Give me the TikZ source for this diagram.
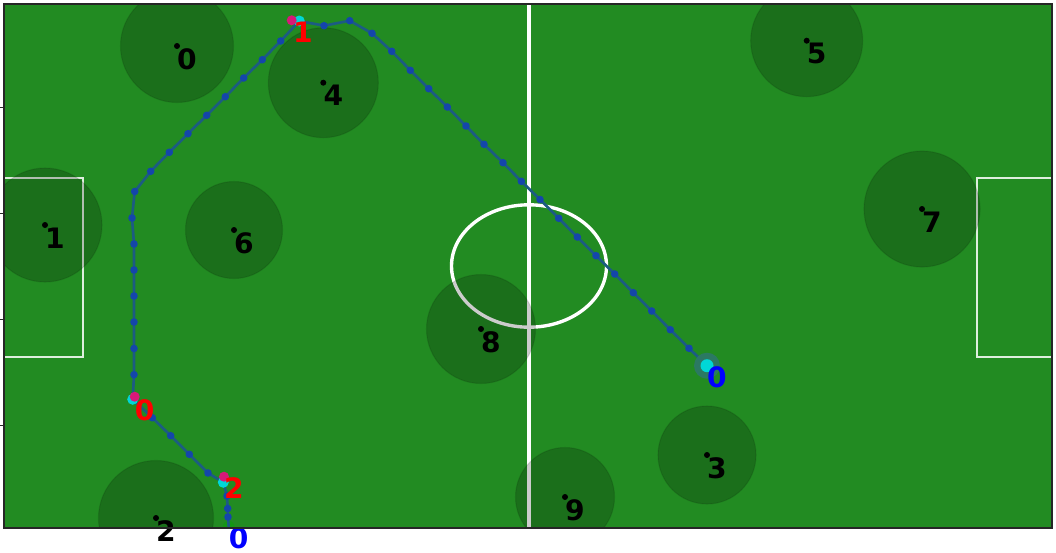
\documentclass[tikz,border=0pt]{standalone}
\usepackage{fontspec}
\setmainfont{DejaVu Sans}
\definecolor{cancha}{RGB}{34,139,34}
\definecolor{ruta}{RGB}{28,92,130}
\definecolor{punto}{RGB}{20,70,170}
\definecolor{meta}{RGB}{0,215,215}
\definecolor{paso}{RGB}{215,25,120}
\definecolor{halo}{RGB}{45,120,105}
\definecolor{inicio}{RGB}{20,150,20}

\begin{document}
\begin{tikzpicture}[x=0.025cm, y=-0.025cm,
  linea/.style={white, line width=2.4pt},
  area/.style={white!85!cancha, line width=1.3pt},
  zona/.style={fill=black, fill opacity=0.2, draw=black, draw opacity=0.1, line width=0.8pt},
  num/.style={font=\fontsize{20}{20}\selectfont\bfseries, inner sep=0pt},
  trayecto/.style={draw=ruta, line width=1.9pt, line join=round}
]
\useasboundingbox (0,0) rectangle (1056,552);

% campo
\fill[cancha] (4,4) rectangle (1052,528);
\draw[linea] (529,4) -- (529,528);
\draw[linea] (529,266) ellipse [x radius=77.5, y radius=61.2];
\draw[area] (4,178.3) -| (83.3,356.7) -- (4,356.7);
\draw[area] (1052,178.3) -| (977.3,356.7) -- (1052,356.7);

\begin{scope}
\clip (4,4) rectangle (1052,528);
% jugadores
\foreach \n/\x/\y/\r in {0/177/46/56.5, 1/45/225/57, 2/156/518/57.5, 3/707/455/49,
    4/323.3/82.7/55, 5/806.7/40.7/56, 6/234/230/48.5, 7/922/209/58,
    8/481/329/54.5, 9/565/497/49.5}
  \fill[zona] (\x,\y) circle (\r);

% trayectoria
\foreach \x/\y [count=\i] in {228.7/527, 228/517, 227.7/508.5, 227/496, 223.3/482.3,
    208/473, 189.3/454.3, 170.7/435.7, 152.3/417.7, 132.7/399.3,
    134/374.7, 134/348.5, 134/322, 134/296, 134/270, 134/244, 132/218,
    134.7/191.5, 150.7/171.3, 169.3/152.3, 188/133.7, 206.7/115.3,
    225.3/96.7, 243.7/78, 262.3/59.7, 280.7/41, 299.3/21,
    324/25.7, 349.7/20.7, 372/33.3, 391.7/51.3, 410.3/70.3, 428.7/88.7,
    447.3/107, 466/126, 484/144.3, 503/162.7, 521.3/181.3, 540/199.5,
    558.7/218.3, 577.3/237, 596/255.7, 614.7/274, 633.3/292.7,
    651.7/311, 670.3/329.7, 689/348.3, 707/365.7}
  \coordinate (p\i) at (\x,\y);
\fill[inicio] (p1) circle (6);
\draw[trayecto] (p1) \foreach \i in {2,...,48} {-- (p\i)};
\foreach \a/\b in {2/4, 6/9, 11/26, 28/47}
  \foreach \i in {\a,...,\b}
    \fill[punto] (p\i) circle (3.8);
\end{scope}

% puntos de paso
\coordinate (m0) at (134.7,396.7);
\coordinate (m1) at (291.7,20.3);
\coordinate (m2) at (224,476.7);
\foreach \i in {5,10,27} \fill[meta] (p\i) circle (5.5);
\foreach \i in {0,1,2} \fill[paso] (m\i) circle (5);
\fill[halo, opacity=0.9] (p48) circle (13);
\fill[meta] (p48) circle (6.5);

% centros y numeros
\foreach \n/\x/\y in {0/177/46, 1/45/225, 2/156/518, 3/707/455, 4/323.3/82.7,
    5/806.7/40.7, 6/234/230, 7/922/209, 8/481/329, 9/565/497} {
  \fill (\x,\y) coordinate (j\n) circle (3);
  \path (j\n) ++(10,13) node[num] (n\n) {\n};
}
\path (p10) ++(12,11) node[num, red] (r0) {0};
\path (p27) ++(3.7,11) node[num, red] (r1) {1};
\path (p5) ++(10.7,6.2) node[num, red] (r2) {2};
\path (p48) ++(10,12) node[num, blue] (b0) {0};
\path (p1) ++(10,11.5) node[num, blue] (b1) {0};

% borde
\draw[black!85, line width=1pt] (4,4) rectangle (1052,528);
\foreach \y in {107,213,319,425} \draw[black!85, line width=0.6pt] (0,\y) -- (4,\y);
\end{tikzpicture}
\end{document}
